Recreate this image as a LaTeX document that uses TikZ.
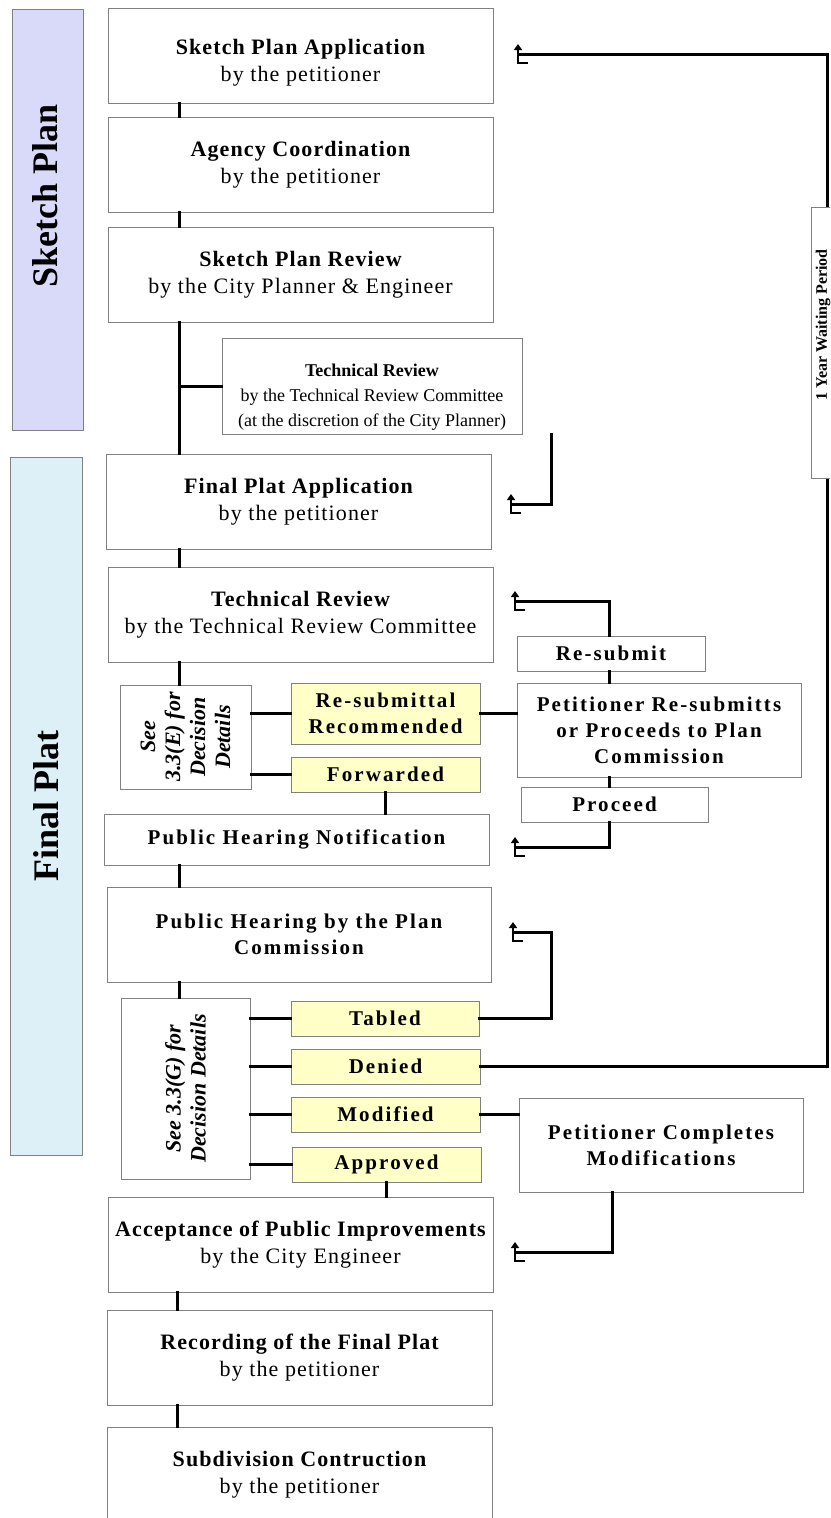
\documentclass[tikz,border=0pt]{standalone}
\usepackage{fontspec}
\setmainfont{Liberation Serif}
\newfontfamily\spacedA{Liberation Serif}[LetterSpace=5]
\newfontfamily\spacedB{Liberation Serif}[LetterSpace=5]
\newfontfamily\spacedC{Liberation Serif}[LetterSpace=10]
\usetikzlibrary{arrows.meta}

\definecolor{boxline}{RGB}{128,128,128}
\definecolor{sketchfill}{RGB}{217,217,250}
\definecolor{platfill}{RGB}{221,240,248}
\definecolor{labfill}{RGB}{255,255,200}

\newcommand\ttltxt{\spacedA\bfseries\fontsize{22}{27}\selectfont}
\newcommand\subtxt{\spacedB\mdseries\fontsize{22}{27}\selectfont}
\newcommand\labtxt{\spacedC\bfseries\fontsize{21}{26}\selectfont}

\tikzset{
  card/.style={draw=boxline, line width=1pt, fill=white, align=center,
    inner sep=0pt, font=\ttltxt},
  label/.style={card, fill=labfill, font=\labtxt},
  plain/.style={card, font=\labtxt},
  sidebar/.style={draw=boxline, line width=1pt, inner sep=0pt},
  vtext/.style={rotate=90, align=center, inner sep=0pt},
  wire/.style={line width=3pt, line cap=rect, line join=miter},
  retmark/.style={line width=2pt, -{Triangle[length=6pt,width=8pt]}},
}

\begin{document}
\begin{tikzpicture}[x=1pt,y=-1pt]
\clip (0,0) rectangle (830,1518);
\fill[white] (0,0) rectangle (830,1518);

% phase bars
\node[sidebar, fill=sketchfill, minimum width=71pt, minimum height=421pt] (barS) at (47.5,219.5) {};
\node[vtext, font=\bfseries\fontsize{36}{40}\selectfont] (barStext) at (45,196) {Sketch Plan};
\node[sidebar, fill=platfill, minimum width=72pt, minimum height=698pt] (barF) at (46,806) {};
\node[vtext, font=\bfseries\fontsize{36}{40}\selectfont] (barFtext) at (barF.center) {Final Plat};

% reference points for the trunk and the return lines
\coordinate (tk) at (179,0);
\coordinate (tkb) at (177,0);
\coordinate (rx) at (609,0);
\coordinate (c551) at (551,0);
\coordinate (c612) at (612,0);
\coordinate (edge) at (827,0);

% sketch plan steps
\node[card, minimum width=385pt, minimum height=95pt] (spa) at (300.5,55.5)
  {\rule{0pt}{29pt}Sketch Plan Application\\{\subtxt by the petitioner}};
\node[card, minimum width=385pt, minimum height=95pt] (agc) at (300.5,164.5)
  {Agency Coordination\\{\subtxt by the petitioner}};
\node[card, minimum width=385pt, minimum height=95pt] (spr) at (300.5,274.5)
  {Sketch Plan Review\\{\subtxt by the City Planner \& Engineer}};
\node[card, minimum width=300pt, minimum height=96pt,
  font=\bfseries\fontsize{18}{25}\selectfont] (tr1) at (372,386)
  {\rule{0pt}{34pt}Technical Review\\{\mdseries by the Technical Review Committee}\\{\mdseries (at the discretion of the City Planner)}};

% final plat steps
\node[card, minimum width=385pt, minimum height=95pt] (fpa) at (298.5,501.5)
  {Final Plat Application\\{\subtxt by the petitioner}};
\node[card, minimum width=385pt, minimum height=95pt] (tr2) at (300.5,614.5)
  {Technical Review\\{\subtxt by the Technical Review Committee}};

\node[card, minimum width=131pt, minimum height=104pt] (seeE) at (185.5,737) {};
\node[vtext, font=\bfseries\itshape\fontsize{22}{25}\selectfont] (seeEtext) at (seeE.center)
  {See\\3.3(E) for\\Decision\\Details};
\node[label, minimum width=189pt, minimum height=61pt] (rsr) at (385.5,713.5)
  {Re-submittal\\Recommended};
\node[label, minimum width=189pt, minimum height=35pt] (fwd) at (385.5,774.5) {Forwarded};

\node[plain, minimum width=188pt, minimum height=35pt] (rsb) at (611,653.5) {Re-submit};
\node[plain, minimum width=284pt, minimum height=94pt] (pet) at (659,730)
  {Petitioner Re-submitts\\or Proceeds to Plan\\Commission};
\node[plain, minimum width=187pt, minimum height=35pt] (prc) at (614.5,804.5) {Proceed};

\node[plain, minimum width=385pt, minimum height=51pt] (phn) at (296.5,839.5)
  {Public Hearing Notification};
\node[plain, minimum width=384pt, minimum height=95pt] (phc) at (299,934.5)
  {Public Hearing by the Plan\\Commission};

\node[card, minimum width=129pt, minimum height=181pt] (seeG) at (185.5,1088.5) {};
\node[vtext, font=\bfseries\itshape\fontsize{22}{25}\selectfont] (seeGtext) at (seeG.center)
  {See 3.3(G) for\\Decision Details};
\node[label, minimum width=188pt, minimum height=35pt] (tab) at (385,1018.5) {Tabled};
\node[label, minimum width=189pt, minimum height=35pt] (den) at (385.5,1066.5) {Denied};
\node[label, minimum width=189pt, minimum height=35pt] (mod) at (385.5,1114.5) {Modified};
\node[label, minimum width=189pt, minimum height=35pt] (app) at (386.5,1164.5) {Approved};
\node[plain, minimum width=284pt, minimum height=94pt] (pcm) at (661,1145)
  {Petitioner Completes\\Modifications};

\node[card, minimum width=385pt, minimum height=95pt] (acc) at (300.5,1244.5)
  {Acceptance of Public Improvements\\{\subtxt by the City Engineer}};
\node[card, minimum width=385pt, minimum height=95pt] (rec) at (299.5,1357.5)
  {Recording of the Final Plat\\{\subtxt by the petitioner}};
\node[card, minimum width=385pt, minimum height=95pt] (sub) at (299.5,1474.5)
  {Subdivision Contruction\\{\subtxt by the petitioner}};

% main trunk
\draw[wire] (spa.south -| tk) -- (agc.north -| tk);
\draw[wire] (agc.south -| tk) -- (spr.north -| tk);
\draw[wire] (spr.south -| tk) -- (fpa.north -| tk);
\draw[wire] (tr1.west -| tk) -- (tr1.west);
\draw[wire] (fpa.south -| tk) -- (tr2.north -| tk);
\draw[wire] (tr2.south -| tk) -- (seeE.north -| tk);
\draw[wire] (seeE.east |- rsr) -- (rsr.west);
\draw[wire] (seeE.east |- fwd) -- (fwd.west);
\draw[wire] (rsr.east) -- (pet.west |- rsr);
\draw[wire] (fwd.south) -- (fwd.south |- phn.north);
\draw[wire] (rsb.south -| rx) -- (pet.north -| rx);
\draw[wire] (pet.south -| rx) -- (prc.north -| rx);
\draw[wire] (phn.south -| tk) -- (phc.north -| tk);
\draw[wire] (phc.south -| tk) -- (seeG.north -| tk);
\foreach \d in {tab,den,mod,app}
  \draw[wire] (seeG.east |- \d) -- (\d.west);
\draw[wire] (mod.east) -- (pcm.west |- mod);
\draw[wire] (app.south) -- (app.south |- acc.north);
\draw[wire] (acc.south -| tkb) -- (rec.north -| tkb);
\draw[wire] (rec.south -| tkb) -- (sub.north -| tkb);

% return lines
\coordinate (r1) at (518,54);
\coordinate (r2) at (511,504);
\coordinate (r3) at (515,601);
\coordinate (r4) at (515,847);
\coordinate (r5) at (513,932);
\coordinate (r6) at (515,1252);
\draw[wire] (den.east) -- (den.east -| edge) -- (r1 -| edge) -- (r1);
\draw[wire] (tr1.south -| c551) -- (r2 -| c551) -- (r2);
\draw[wire] (rsb.north -| rx) -- (r3 -| rx) -- (r3);
\draw[wire] (prc.south -| rx) -- (r4 -| rx) -- (r4);
\draw[wire] (tab.east) -- (tab.east -| c551) -- (r5 -| c551) -- (r5);
\draw[wire] (pcm.south -| c612) -- (r6 -| c612) -- (r6);
\foreach \r in {r1,r2,r3,r4,r5,r6}
  \draw[retmark] ([shift={(10,9)}]\r) -- ([shift={(0,9)}]\r) -- ([shift={(0,-10)}]\r);

% waiting period tag on the denial line
\node[card, minimum width=34pt, minimum height=271pt] (wait) at (828,342.5) {};
\node[vtext, font=\bfseries\fontsize{16}{18}\selectfont] (waittext) at (823,325) {1 Year Waiting Period};
\end{tikzpicture}
\end{document}
